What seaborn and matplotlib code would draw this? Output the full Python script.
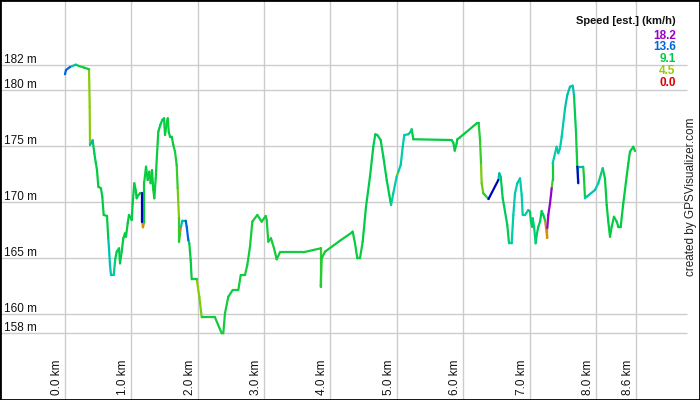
import numpy as np
import pandas as pd
import seaborn as sns
import matplotlib
matplotlib.use("Agg")
import matplotlib.pyplot as plt
import matplotlib.transforms as mtransforms
from matplotlib.colors import LinearSegmentedColormap, Normalize
from matplotlib.patches import Rectangle

sns.set_theme(style="white")
plt.rcParams['font.family'] = ['Liberation Sans', 'DejaVu Sans']

# track profile: distance (km), elevation (m), estimated speed (km/h)
dist_km = [0.0, 0.015, 0.075, 0.161, 0.211, 0.291, 0.362, 0.372, 0.377, 0.417,
           0.442, 0.463, 0.482, 0.502, 0.542, 0.562, 0.583, 0.633, 0.652, 0.663,
           0.678, 0.693, 0.734, 0.758, 0.779, 0.814, 0.829, 0.854, 0.879, 0.904,
           0.919, 0.945, 0.964, 1.005, 1.020, 1.044, 1.065, 1.080, 1.105, 1.135,
           1.165, 1.165, 1.175, 1.195, 1.195, 1.221, 1.246, 1.270, 1.291, 1.311,
           1.331, 1.346, 1.367, 1.386, 1.406, 1.436, 1.466, 1.492, 1.507, 1.533,
           1.548, 1.563, 1.582, 1.608, 1.632, 1.658, 1.683, 1.698, 1.707, 1.718,
           1.718, 1.733, 1.748, 1.768, 1.819, 1.834, 1.858, 1.873, 1.894, 1.909,
           1.985, 2.024, 2.060, 2.260, 2.361, 2.385, 2.411, 2.461, 2.527, 2.612,
           2.648, 2.712, 2.747, 2.788, 2.823, 2.898, 2.964, 3.024, 3.039, 3.064,
           3.104, 3.150, 3.190, 3.240, 3.591, 3.742, 3.853, 3.853, 3.868, 3.918,
           4.144, 4.320, 4.335, 4.370, 4.405, 4.445, 4.486, 4.536, 4.596, 4.646,
           4.676, 4.706, 4.757, 4.797, 4.848, 4.887, 4.913, 4.947, 4.998, 5.023,
           5.059, 5.089, 5.113, 5.173, 5.209, 5.224, 5.249, 5.827, 5.852, 5.873,
           5.903, 5.912, 5.952, 6.204, 6.234, 6.254, 6.269, 6.279, 6.303, 6.329,
           6.382, 6.530, 6.545, 6.566, 6.596, 6.631, 6.665, 6.691, 6.731, 6.756,
           6.781, 6.816, 6.857, 6.882, 6.897, 6.932, 6.982, 7.007, 7.022, 7.038,
           7.048, 7.068, 7.093, 7.108, 7.132, 7.158, 7.183, 7.208, 7.233, 7.268,
           7.268, 7.283, 7.309, 7.334, 7.349, 7.349, 7.369, 7.409, 7.433, 7.459,
           7.485, 7.535, 7.569, 7.610, 7.651, 7.670, 7.700, 7.711, 7.720, 7.735,
           7.735, 7.810, 7.821, 7.836, 7.862, 7.987, 8.036, 8.103, 8.137, 8.163,
           8.187, 8.213, 8.238, 8.273, 8.314, 8.338, 8.374, 8.413, 8.454, 8.489,
           8.514, 8.564, 8.590]
elev_m = [181.43, 181.81, 182.08, 182.29, 182.17, 182.02, 181.88, 178.54, 175.12, 175.54,
          174.38, 173.57, 172.88, 171.39, 171.25, 170.50, 168.87, 168.78, 166.79, 165.89,
          164.40, 163.51, 163.51, 164.94, 165.59, 165.89, 164.55, 165.59, 166.79, 167.23,
          166.93, 168.13, 168.87, 168.42, 169.91, 171.70, 171.10, 170.36, 170.65, 170.80,
          170.80, 168.27, 167.77, 168.27, 171.84, 173.18, 171.99, 172.73, 171.70, 172.88,
          171.10, 170.36, 172.14, 174.22, 176.30, 176.90, 177.35, 177.50, 176.01, 177.05,
          177.50, 176.30, 175.86, 175.86, 175.12, 174.52, 173.33, 171.25, 170.05, 168.57,
          166.48, 167.23, 167.82, 168.36, 168.36, 167.82, 166.63, 166.34, 164.85, 163.13,
          163.13, 161.57, 159.73, 159.73, 158.30, 158.30, 160.09, 161.57, 162.17, 162.17,
          163.51, 163.51, 164.40, 166.04, 168.27, 168.87, 168.27, 168.78, 168.42, 166.48,
          166.79, 165.89, 164.91, 165.54, 165.54, 165.74, 165.89, 162.46, 165.00, 165.59,
          166.57, 167.29, 167.38, 166.34, 165.00, 165.00, 166.48, 169.61, 172.29, 174.96,
          176.07, 176.01, 175.56, 174.07, 171.99, 170.65, 169.76, 170.80, 172.29, 172.73,
          173.33, 174.96, 176.01, 176.07, 176.30, 176.52, 175.63, 175.56, 175.32, 174.61,
          175.27, 175.63, 175.80, 177.05, 177.05, 175.56, 173.48, 171.70, 170.80, 170.65,
          170.29, 171.99, 172.59, 172.29, 170.36, 169.16, 167.97, 166.34, 166.34, 168.87,
          170.80, 171.70, 172.14, 170.65, 168.87, 168.87, 169.31, 169.16, 168.27, 167.82,
          168.57, 167.82, 166.34, 167.08, 167.82, 168.27, 169.22, 168.87, 168.42, 166.84,
          167.70, 168.87, 169.91, 171.25, 171.99, 173.48, 173.98, 174.96, 174.38, 174.82,
          175.86, 178.39, 179.58, 180.32, 180.41, 179.58, 176.30, 174.52, 173.18, 171.70,
          173.18, 173.18, 172.14, 170.36, 170.50, 171.10, 171.70, 173.04, 172.14, 169.76,
          168.27, 166.93, 167.82, 168.71, 168.27, 167.82, 167.82, 169.91, 171.84, 173.48,
          174.52, 174.96, 174.58]
speed_kmh = [4.5, 13.6, 13.6, 11.6, 8.6, 8.6, 8.6, 5.0, 5.0, 11.8,
             9.3, 9.3, 9.3, 9.0, 9.0, 9.0, 9.0, 9.0, 9.0, 11.6,
             11.6, 11.6, 11.4, 10.5, 9.3, 9.3, 9.3, 9.0, 9.0, 9.0,
             9.0, 9.0, 9.0, 9.0, 9.0, 9.0, 9.0, 9.0, 9.0, 9.0,
             9.0, 15.9, 2.5, 2.5, 8.8, 8.8, 8.8, 8.8, 8.8, 8.8,
             8.8, 8.8, 8.8, 8.8, 8.8, 9.2, 9.2, 9.2, 8.8, 8.8,
             8.8, 8.8, 8.8, 8.8, 8.8, 8.5, 8.5, 7.5, 5.5, 5.0,
             7.5, 8.0, 2.5, 11.8, 11.8, 13.6, 13.6, 9.0, 9.0, 9.0,
             8.5, 5.0, 5.5, 8.5, 8.6, 8.6, 8.6, 8.6, 8.6, 8.6,
             8.6, 8.6, 8.6, 8.6, 8.6, 8.6, 8.6, 8.6, 8.6, 8.6,
             8.6, 8.6, 8.6, 8.6, 8.6, 8.6, 8.6, 7.5, 8.0, 8.8,
             8.8, 8.8, 8.8, 8.8, 8.8, 8.8, 8.8, 9.2, 9.2, 9.2,
             9.5, 9.5, 9.2, 9.2, 9.2, 9.2, 9.2, 11.4, 11.4, 6.0,
             11.4, 11.4, 11.4, 11.4, 10.5, 10.5, 9.0, 9.0, 9.0, 9.0,
             9.0, 9.0, 9.0, 9.0, 9.0, 8.0, 7.5, 5.5, 6.0, 8.0,
             8.0, 15.9, 11.8, 11.6, 9.5, 9.5, 9.5, 9.5, 11.4, 11.4,
             11.4, 11.4, 11.4, 11.4, 11.4, 11.4, 11.4, 9.5, 9.5, 9.5,
             9.5, 10.5, 10.5, 9.5, 9.5, 9.5, 9.5, 9.5, 9.5, 2.5,
             2.5, 18.2, 18.2, 18.2, 7.0, 8.5, 11.4, 11.4, 11.4, 11.4,
             11.4, 11.4, 11.6, 11.6, 11.6, 11.6, 9.5, 8.5, 8.5, 15.5,
             11.8, 11.8, 8.5, 8.5, 11.4, 11.6, 11.4, 10.5, 9.0, 9.0,
             9.0, 9.0, 9.0, 9.0, 9.0, 9.0, 9.0, 9.0, 9.0, 9.0,
             9.0, 9.0, 9.0]

x_ticks = [0.0, 1.0, 2.0, 3.0, 4.0, 5.0, 6.0, 7.0, 8.0, 8.6]
y_ticks = [160, 165, 170, 175, 180]
legend_speeds = [18.2, 13.6, 9.1, 4.5, 0.0]

# GPSVisualizer style speed colours
speed_max = 18.2
anchors = [(0.0, '#dd0000'), (2.3, '#dd8800'), (4.5, '#99cc00'), (9.1, '#00cc44'),
           (11.4, '#00ccaa'), (13.6, '#0066dd'), (15.9, '#0000bb'), (18.2, '#9900cc')]
cmap = LinearSegmentedColormap.from_list('speed', [(v / speed_max, c) for v, c in anchors])
norm = Normalize(0, speed_max)

# one little 2-point line per segment so every piece gets its own colour
rows = []
for i in range(len(dist_km) - 1):
    for j in (i, i + 1):
        rows.append({'seg': i, 'km': dist_km[j], 'm': elev_m[j], 'speed': speed_kmh[i + 1]})
df = pd.DataFrame(rows)

fig = plt.figure(figsize=(7, 4), dpi=100)
ax = fig.add_axes([0, 0, 1, 1])

px_km = 66.36
px_m = 11.2
xlim = (-65 / px_km, (700 - 65) / px_km)
ylim = (175 - (400 - 146.3) / px_m, 175 + 146.3 / px_m)

grid_c = '#cccccc'
emin, emax = min(elev_m), max(elev_m)
h_lines = [emin] + y_ticks + [emax]
h_labels = ['%d m' % round(v) for v in h_lines]
x_end = (687 - 65) / px_km
ax.hlines(h_lines, xlim[0], x_end, color=grid_c, lw=1.0, zorder=1)
for v in x_ticks:
    ax.axvline(v, color=grid_c, lw=1.0, zorder=1)

sns.lineplot(data=df, x='km', y='m', hue='speed', units='seg', estimator=None,
             palette=cmap, hue_norm=(0, speed_max), sort=False, legend=False,
             linewidth=1.6, solid_capstyle='round', ax=ax, zorder=3)
ax.set_xlim(*xlim)
ax.set_ylim(*ylim)
ax.set_axis_off()

# elevation labels sit just above their lines at the left edge
ylab_tr = mtransforms.offset_copy(ax.get_yaxis_transform(), fig=fig, x=0, y=2, units='dots')
for v, lab in zip(h_lines, h_labels):
    ax.text(4 / 700, v, lab, transform=ylab_tr, fontsize=8.5, color='#111111',
            ha='left', va='baseline')

# distance labels, rotated, at the bottom left of each line
xlab_tr = mtransforms.offset_copy(ax.get_xaxis_transform(), fig=fig, x=-2, y=0, units='dots')
for v in x_ticks:
    ax.text(v, 5 / 400, '%.1f km' % v, transform=xlab_tr, rotation=90,
            rotation_mode='anchor', ha='left', va='bottom', fontsize=8.5, color='#111111')

# speed colour key
ax.text(0.9653, 1 - 21 / 400, 'Speed [est.] (km/h)', transform=ax.transAxes,
        ha='right', va='center', fontsize=8, fontweight='bold', color='#111111')
for k, s in enumerate(legend_speeds):
    ax.text(0.9653, 1 - (35.7 + 11.8 * k) / 400, '%.1f' % s, transform=ax.transAxes,
            ha='right', va='center', fontsize=8.5, fontweight='bold', color=cmap(norm(s)))

ax.text(691 / 700, 1 - 197 / 400, 'created by GPSVisualizer.com', transform=ax.transAxes,
        rotation=90, ha='center', va='center', fontsize=8.5, color='#222222')

fig.patches.append(Rectangle((0, 0), 1, 1, transform=fig.transFigure, fill=False,
                             edgecolor='black', linewidth=2))

fig.savefig('out.png', dpi=100, facecolor='white')
